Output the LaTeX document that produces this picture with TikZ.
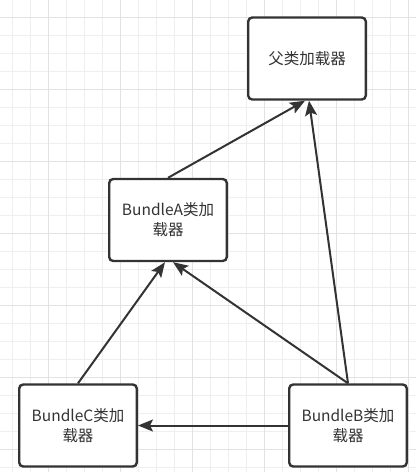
\documentclass[tikz,border=0pt]{standalone}
\usepackage{fontspec}
\newfontfamily\cjkfont{Noto Sans CJK SC}
\usetikzlibrary{arrows.meta}
\definecolor{ink}{HTML}{333333}
\definecolor{gridminor}{HTML}{EFEFEF}
\definecolor{gridmajor}{HTML}{E2E2E2}
\begin{document}
\begin{tikzpicture}[x=1pt,y=-1pt,
  box/.style={draw=ink, line width=2.4pt, rounded corners=4pt, fill=white,
    minimum width=117.6pt, minimum height=82pt, inner sep=0pt, align=center,
    text=ink, font=\cjkfont\fontsize{15.5}{20}\selectfont},
  link/.style={draw=ink, line width=2pt, -{Stealth[length=15pt,width=12pt,inset=3pt]}},
  minorline/.style={draw=gridminor, line width=1pt},
  majorline/.style={draw=gridmajor, line width=1pt}]
\useasboundingbox (0,0) rectangle (416,472);
\fill[white] (0,0) rectangle (416,472);
\foreach \k in {0,...,22} \draw[minorline] ({12.7+18*\k},0) -- ({12.7+18*\k},472);
\foreach \k in {0,...,25} \draw[minorline] (0,{17+18*\k}) -- (416,{17+18*\k});
\foreach \k in {0,...,5} \draw[majorline] ({48.7+72*\k},0) -- ({48.7+72*\k},472);
\foreach \k in {0,...,6} \draw[majorline] (0,{17+72*\k}) -- (416,{17+72*\k});

\node[box] (par) at (307,58.5) {父类加载器};
\node[box] (ba) at (168,220) {BundleA类加\\载器};
\node[box] (bc) at (78,425.5) {BundleC类加\\载器};
\node[box] (bb) at (348,425.5) {BundleB类加\\载器};

\draw[link] (ba.north) -- ([xshift=-2pt]par.south);
\draw[link] (bb.north) -- ([xshift=2pt]par.south);
\draw[link] (bc.north) -- ([xshift=-3pt]ba.south);
\draw[link] (bb.north) -- ([xshift=5pt]ba.south);
\draw[link] (bb.west) -- (bc.east);
\end{tikzpicture}
\end{document}
